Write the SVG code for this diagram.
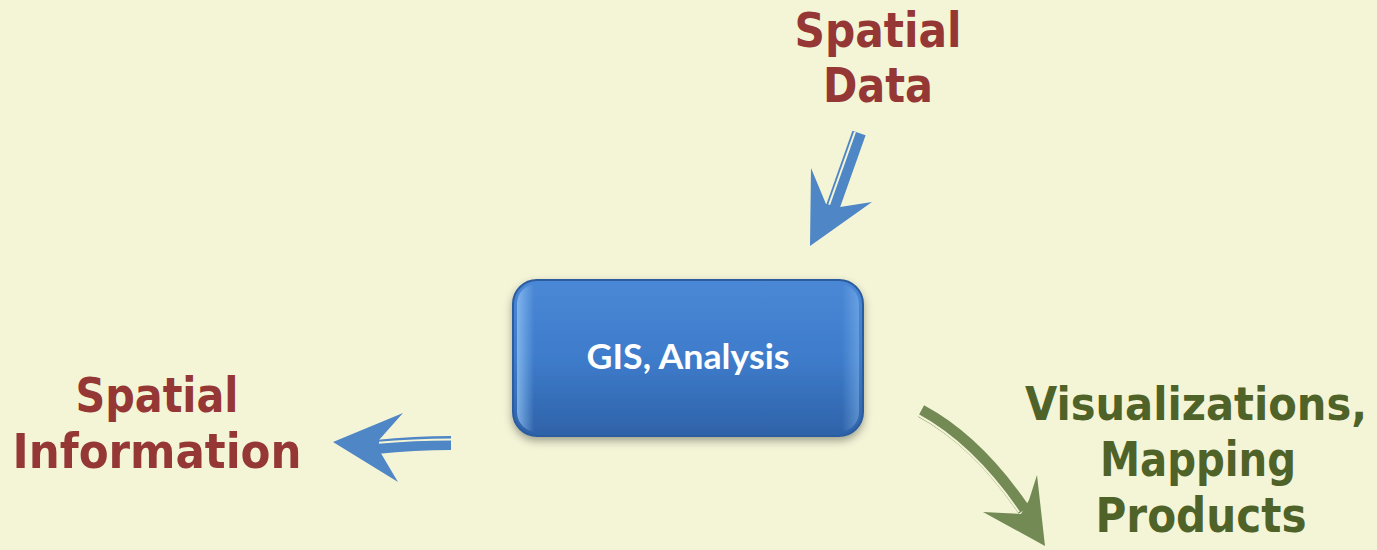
<svg xmlns="http://www.w3.org/2000/svg" width="1377" height="550" viewBox="0 0 1377 550">
<style>
.lbl{font-family:"DejaVu Sans","Verdana",sans-serif;font-weight:bold;font-size:48px;font-stretch:condensed}
.red{fill:#953735}
.grn{fill:#4F6228}
.box-t{font-family:Lato,"Open Sans",sans-serif;font-weight:bold;font-size:35px;fill:#ffffff}
.blue-shaft{fill:none;stroke:#4F86C6;stroke-linecap:butt}
.grn-shaft{fill:none;stroke:#738A55;stroke-linecap:butt}
.gap{fill:none;stroke:#F4F5D7;stroke-width:2;stroke-linecap:butt}
</style>
<defs>
<linearGradient id="boxg" x1="0" y1="0" x2="0" y2="1">
<stop offset="0" stop-color="#4A88D6"/>
<stop offset="0.5" stop-color="#3E7CCB"/>
<stop offset="1" stop-color="#2E62A8"/>
</linearGradient>
<linearGradient id="bevel" x1="0" y1="0" x2="1" y2="0">
<stop offset="0" stop-color="#8EC0F2" stop-opacity="0.8"/>
<stop offset="0.05" stop-color="#8EC0F2" stop-opacity="0"/>
<stop offset="0.95" stop-color="#8EC0F2" stop-opacity="0"/>
<stop offset="1" stop-color="#8EC0F2" stop-opacity="0.45"/>
</linearGradient>
<filter id="shadow" x="-10%" y="-10%" width="120%" height="130%">
<feDropShadow dx="0" dy="4" stdDeviation="4" flood-color="#000000" flood-opacity="0.35"/>
</filter>
</defs>
<rect x="0" y="0" width="1377" height="550" fill="#F4F5D7"/>

<g id="connectors">
<g id="arrow-data-to-gis">
<path class="blue-shaft" stroke-width="14" d="M859,133 L831,212"/>
<path class="gap" d="M855,132 L828,208"/>
<polygon fill="#4F86C6" points="811,168 826,204 840,207 872,202 810,246"/>
</g>
<g id="arrow-gis-to-info">
<path class="blue-shaft" stroke-width="14" d="M451,443 Q415,443 376,447"/>
<path class="gap" d="M451,439.5 Q415,439.5 375,443"/>
<polygon fill="#4F86C6" points="403,413 379,440 379,450 398,482 333,442"/>
</g>
<g id="arrow-gis-to-products">
<path class="grn-shaft" stroke-width="13" d="M921,411 Q977,441 1024,510"/>
<path class="gap" d="M918,415 Q973,445 1019,512"/>
<polygon fill="#738A55" points="1037,475 1045,546 983,512 1021,514 1029,500"/>
</g>
</g>

<g id="node-gis">
<rect x="513" y="280" width="350" height="156" rx="24" ry="24" fill="url(#boxg)" stroke="#2B5C9E" stroke-width="2" filter="url(#shadow)"/>
<rect x="517" y="284" width="342" height="148" rx="20" ry="20" fill="url(#bevel)"/>
<text class="box-t" x="688" y="369" text-anchor="middle" textLength="203" lengthAdjust="spacingAndGlyphs">GIS, Analysis</text>
</g>

<g id="node-spatial-data">
<text class="lbl red" x="878" y="47" text-anchor="middle" textLength="167" lengthAdjust="spacingAndGlyphs">Spatial</text>
<text class="lbl red" x="878" y="102" text-anchor="middle" textLength="110" lengthAdjust="spacingAndGlyphs">Data</text>
</g>

<g id="node-spatial-info">
<text class="lbl red" x="157" y="412" text-anchor="middle" textLength="163" lengthAdjust="spacingAndGlyphs">Spatial</text>
<text class="lbl red" x="157" y="468" text-anchor="middle" textLength="289" lengthAdjust="spacingAndGlyphs">Information</text>
</g>

<g id="node-products">
<text class="lbl grn" x="1196" y="420" style="font-size:46px" text-anchor="middle" textLength="342" lengthAdjust="spacingAndGlyphs">Visualizations,</text>
<text class="lbl grn" x="1198" y="476" text-anchor="middle" textLength="196" lengthAdjust="spacingAndGlyphs">Mapping</text>
<text class="lbl grn" x="1201" y="532" text-anchor="middle" textLength="211" lengthAdjust="spacingAndGlyphs">Products</text>
</g>
</svg>
